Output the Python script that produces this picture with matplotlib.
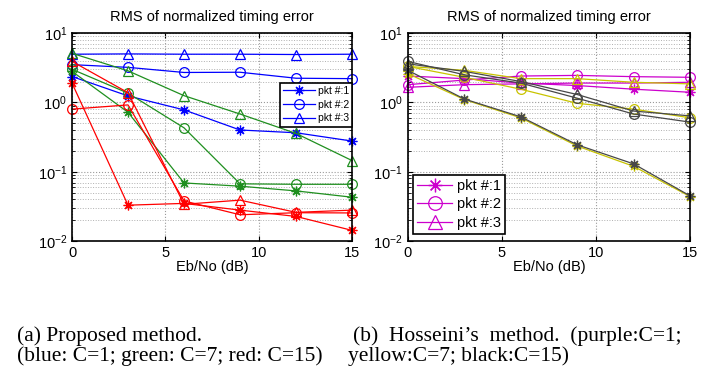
import numpy as np
import matplotlib.pyplot as plt
from matplotlib.ticker import LogLocator, NullFormatter

plt.rcParams['font.family'] = ['Liberation Sans', 'DejaVu Sans']

ebno = [0, 3, 6, 9, 12, 15]
pkt_labels = ['pkt #:1', 'pkt #:2', 'pkt #:3']

# (a) proposed method, per C value: [pkt1, pkt2, pkt3]
prop_c1 = [[2.36, 1.24, 0.78, 0.40, 0.365, 0.277],
           [3.5, 3.2, 2.7, 2.72, 2.23, 2.2],
           [4.95, 5.0, 4.95, 4.95, 4.9, 4.95]]
prop_c7 = [[2.8, 0.72, 0.069, 0.062, 0.053, 0.043],
           [3.0, 1.36, 0.43, 0.067, 0.066, 0.066],
           [5.1, 2.85, 1.25, 0.68, 0.357, 0.145]]
prop_c15 = [[1.9, 0.033, 0.035, 0.028, 0.0227, 0.0143],
            [0.8, 0.92, 0.038, 0.024, 0.0257, 0.0255],
            [3.9, 1.38, 0.034, 0.039, 0.026, 0.028]]

# (b) Hosseini's method
hos_c1 = [[2.4, 2.2, 1.9, 1.75, 1.55, 1.4],
          [1.8, 2.1, 2.4, 2.45, 2.35, 2.3],
          [1.65, 1.8, 1.85, 1.9, 1.9, 1.95]]
hos_c7 = [[2.6, 1.1, 0.6, 0.235, 0.12, 0.044],
          [3.3, 2.3, 1.55, 0.97, 0.8, 0.6],
          [3.3, 2.9, 2.2, 2.2, 1.95, 1.85]]
hos_c15 = [[2.9, 1.12, 0.62, 0.245, 0.13, 0.045],
           [3.9, 2.5, 1.9, 1.15, 0.68, 0.52],
           [3.6, 2.8, 2.0, 1.3, 0.75, 0.64]]

markers = [(8, 2, 0), 'o', '^']


def setup_axes(ax):
    ax.set_yscale('log')
    ax.set_xlim(0, 15)
    ax.set_ylim(1e-2, 1e1)
    ax.set_xticks([0, 5, 10, 15])
    ax.yaxis.set_major_locator(LogLocator(base=10, numticks=10))
    ax.yaxis.set_minor_locator(LogLocator(base=10, subs=np.arange(2, 10), numticks=20))
    ax.yaxis.set_minor_formatter(NullFormatter())
    ax.grid(True, which='major', color='#9a9a9a', linestyle=':', linewidth=0.8)
    ax.grid(True, which='minor', axis='y', color='#b0b0b0', linestyle=':', linewidth=0.7)
    ax.tick_params(direction='in', which='both', top=True, right=True, labelsize=10.5)
    ax.tick_params(which='minor', length=2)
    for sp in ax.spines.values():
        sp.set_linewidth(1.2)
    ax.set_xlabel('Eb/No (dB)', fontsize=10.5, labelpad=0)
    ax.set_title('RMS of normalized timing error', fontsize=10.5, pad=9)


fig = plt.figure(figsize=(7.18, 3.71), dpi=100)
ax1 = fig.add_axes([0.1003, 0.350, 0.390, 0.561])
ax2 = fig.add_axes([0.568, 0.350, 0.393, 0.561])

# left panel
for data, col in [(prop_c1, '#0000ff'), (prop_c7, '#1f8f1f'), (prop_c15, '#ff0000')]:
    for i, series in enumerate(data):
        ax1.plot(ebno, series, color=col, marker=markers[i], markersize=7,
                 markerfacecolor='none', markeredgewidth=0.9, linewidth=0.9,
                 label=pkt_labels[i] if col == '#0000ff' else None, clip_on=False)
setup_axes(ax1)
leg1 = ax1.legend(loc='upper right', bbox_to_anchor=(1.0, 0.76), fontsize=7.5,
                  fancybox=False, edgecolor='black', framealpha=1,
                  borderpad=0.3, labelspacing=0.35, handlelength=3.0,
                  handletextpad=0.3, borderaxespad=0)
leg1.get_frame().set_linewidth(1.2)

# right panel
for data, col in [(hos_c1, '#cc00cc'), (hos_c7, '#c8c400'), (hos_c15, '#484848')]:
    for i, series in enumerate(data):
        ax2.plot(ebno, series, color=col, marker=markers[i], markersize=7,
                 markerfacecolor='none', markeredgewidth=0.9, linewidth=0.9,
                 label=pkt_labels[i] if col == '#cc00cc' else None, clip_on=False)
setup_axes(ax2)
leg2 = ax2.legend(loc='lower left', bbox_to_anchor=(0.018, 0.034), fontsize=10.5,
                  fancybox=False, edgecolor='black', framealpha=1,
                  borderpad=0.3, labelspacing=0.3, handlelength=2.4,
                  handletextpad=0.3, borderaxespad=0, markerscale=1.4)
leg2.get_frame().set_linewidth(1.2)

# captions
cap = dict(family=['Liberation Serif', 'DejaVu Serif'], fontsize=15.5, ha='left', va='baseline')
fig.text(17 / 718, 0.0817, '(a) Proposed method.', **cap)
fig.text(17 / 718, 0.0278, '(blue: C=1; green: C=7; red: C=15)', **cap)
fig.text(353 / 718, 0.0817, '(b)  Hosseini\u2019s  method.  (purple:C=1;', **cap)
fig.text(348 / 718, 0.0278, 'yellow:C=7; black:C=15)', **cap)

fig.savefig('out.png', dpi=100)
